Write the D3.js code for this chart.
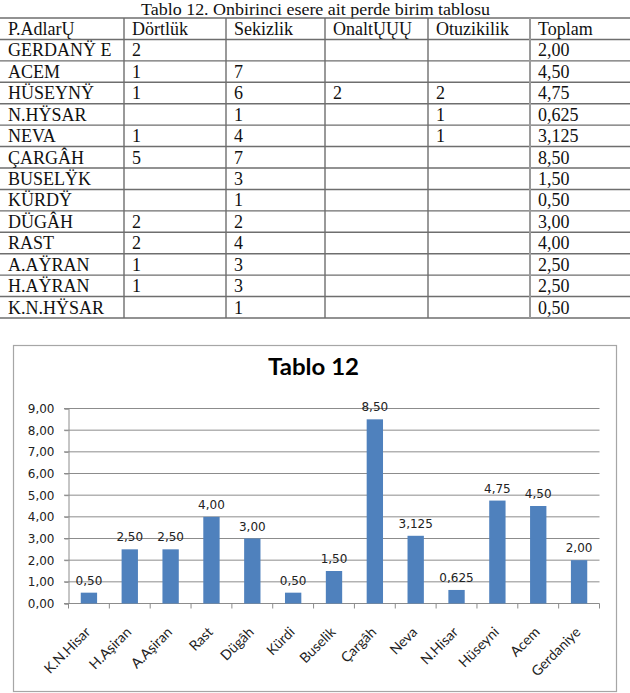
<!DOCTYPE html>
<html lang="tr">
<head>
<meta charset="UTF-8">
<title>Tablo 12</title>
<script src="https://cdnjs.cloudflare.com/ajax/libs/d3/7.8.5/d3.min.js"></script>
<style>
    body { margin: 0; padding: 0; background: #fff; }
    svg { display: block; }
</style>
</head>
<body>
<div id="chart"></div>
<script>
// table data (as printed in the source, broken glyphs included)
const tableTitle = "Tablo 12. Onbirinci esere ait perde birim tablosu";
const tableHeaders = ["P.AdlarŲ", "Dörtlük", "Sekizlik", "OnaltŲŲŲ", "Otuzikilik", "Toplam"];
const rowNames = ["GERDANŸ E", "ACEM", "HÜSEYNŸ", "N.HŸSAR", "NEVA", "ÇARGÂH", "BUSELŸK",
    "KÜRDŸ", "DÜGÂH", "RAST", "A.AŸRAN", "H.AŸRAN", "K.N.HŸSAR"];
const dortluk    = ["2", "1", "1", "", "1", "5", "", "", "2", "2", "1", "1", ""];
const sekizlik   = ["", "7", "6", "1", "4", "7", "3", "1", "2", "4", "3", "3", "1"];
const onaltilik  = ["", "", "2", "", "", "", "", "", "", "", "", "", ""];
const otuzikilik = ["", "", "2", "1", "1", "", "", "", "", "", "", "", ""];
const toplam     = ["2,00", "4,50", "4,75", "0,625", "3,125", "8,50", "1,50",
    "0,50", "3,00", "4,00", "2,50", "2,50", "0,50"];

// chart data
const chartTitle = "Tablo 12";
const categories = ["K.N.Hisar", "H.Aşiran", "A.Aşiran", "Rast", "Dügâh", "Kürdi", "Buselik",
    "Çargâh", "Neva", "N.Hisar", "Hüseyni", "Acem", "Gerdaniye"];
const values = [0.5, 2.5, 2.5, 4, 3, 0.5, 1.5, 8.5, 3.125, 0.625, 4.75, 4.5, 2];
const yTicks = [0, 1, 2, 3, 4, 5, 6, 7, 8, 9];

const W = 630, H = 693;
const svg = d3.select("#chart").append("svg").attr("width", W).attr("height", H);

// ---------- table ----------
const serif = "'Liberation Serif', 'Times New Roman', serif";
const tbl = svg.append("g");

tbl.append("text")
    .attr("x", 141).attr("y", 15)
    .attr("textLength", 349).attr("lengthAdjust", "spacingAndGlyphs")
    .style("font-family", serif).style("font-size", "17px").style("fill", "#111")
    .text(tableTitle);

const rows = [tableHeaders].concat(rowNames.map((n, i) =>
    [n, dortluk[i], sekizlik[i], onaltilik[i], otuzikilik[i], toplam[i]]));

const ry = d3.scaleBand().domain(d3.range(rows.length)).range([18, 318]);
const colEdges = [-1, 124, 226, 325, 428, 530, 640];

// grid lines
tbl.selectAll("line.h").data(d3.range(rows.length + 1)).join("line")
    .attr("x1", 0).attr("x2", W)
    .attr("y1", i => ry(0) + i * ry.step()).attr("y2", i => ry(0) + i * ry.step())
    .attr("stroke", "#6e6e6e").attr("stroke-width", 1.4);
tbl.selectAll("line.v").data(colEdges.slice(1, -1)).join("line")
    .attr("x1", d => d).attr("x2", d => d)
    .attr("y1", ry(0)).attr("y2", ry(0) + rows.length * ry.step())
    .attr("stroke", (d, i) => i === 4 ? "#9a9a9a" : "#6e6e6e").attr("stroke-width", d => d === 530 ? 2 : 1.4);

rows.forEach((r, ri) => {
    tbl.selectAll(null).data(r).join("text")
        .attr("x", (d, ci) => Math.max(colEdges[ci], 0) + 8)
        .attr("y", ry(ri) + 17)
        .style("font-family", serif).style("font-size", "18px").style("fill", "#111")
        .text(d => d);
});

// ---------- chart ----------
const sans = "'DejaVu Sans', sans-serif";
const frame = svg.append("g");
frame.append("rect")
    .attr("x", 13.5).attr("y", 345.5).attr("width", 603).attr("height", 346)
    .attr("fill", "#fff").attr("stroke", "#a6a6a6").attr("stroke-width", 1.2);

frame.append("text")
    .attr("x", 268).attr("y", 375)
    .attr("textLength", 91).attr("lengthAdjust", "spacingAndGlyphs")
    .style("font-family", "Lato, 'Open Sans', sans-serif").style("font-weight", "bold")
    .style("font-size", "23px").style("fill", "#000")
    .text(chartTitle);

const x = d3.scaleBand().domain(categories).range([68.5, 599.5])
    .paddingInner(0.6).paddingOuter(0.3);
const y = d3.scaleLinear().domain([0, 9]).range([603.5, 408.5]);

const locale = d3.formatLocale({ decimal: ",", thousands: ".", grouping: [3], currency: ["", ""] });
const fmt2 = locale.format(".2f");
const fmtLabel = v => {
    const s = String(v).split(".")[1] || "";
    return s.length > 2 ? locale.format("." + s.length + "f")(v) : fmt2(v);
};

// gridlines
frame.append("g").selectAll("line").data(yTicks).join("line")
    .attr("x1", 64).attr("x2", 599.5)
    .attr("y1", d => y(d)).attr("y2", d => y(d))
    .attr("stroke", "#8c8c8c").attr("stroke-width", 1);

// y axis
const yAxis = frame.append("g")
    .attr("transform", "translate(68.5,0)")
    .call(d3.axisLeft(y).tickValues(yTicks).tickFormat(fmt2).tickSize(4).tickPadding(10));
yAxis.select(".domain").attr("stroke", "#8c8c8c");
yAxis.selectAll(".tick line").attr("stroke", "#8c8c8c");
yAxis.selectAll("text").style("font-family", sans).style("font-size", "12px").attr("fill", "#222");

// x axis ticks at category boundaries
const step = x.step();
const x0 = x.range()[0];
frame.append("g").selectAll("line").data(d3.range(categories.length + 1)).join("line")
    .attr("x1", i => x0 + i * step).attr("x2", i => x0 + i * step)
    .attr("y1", y(0)).attr("y2", y(0) + 5)
    .attr("stroke", "#8c8c8c");

// bars
frame.append("g").selectAll("rect").data(values).join("rect")
    .attr("x", (d, i) => x(categories[i]))
    .attr("y", d => y(d))
    .attr("width", x.bandwidth())
    .attr("height", d => y(0) - y(d))
    .attr("fill", "#4f81bd");

// data labels
frame.append("g").selectAll("text").data(values).join("text")
    .attr("x", (d, i) => x(categories[i]) + x.bandwidth() / 2)
    .attr("y", d => y(d) - 8)
    .attr("text-anchor", "middle")
    .style("font-family", sans).style("font-size", "12px").style("fill", "#222")
    .text(d => fmtLabel(d));

// category labels
frame.append("g").selectAll("text").data(categories).join("text")
    .attr("transform", d => `translate(${x(d) + x.bandwidth() / 2 - 1},${y(0) + 26}) rotate(-45)`)
    .attr("text-anchor", "end")
    .attr("dy", "0.35em")
    .style("font-family", "Lato, 'Open Sans', sans-serif").style("font-size", "14px").style("fill", "#222")
    .text(d => d);
</script>
</body>
</html>
